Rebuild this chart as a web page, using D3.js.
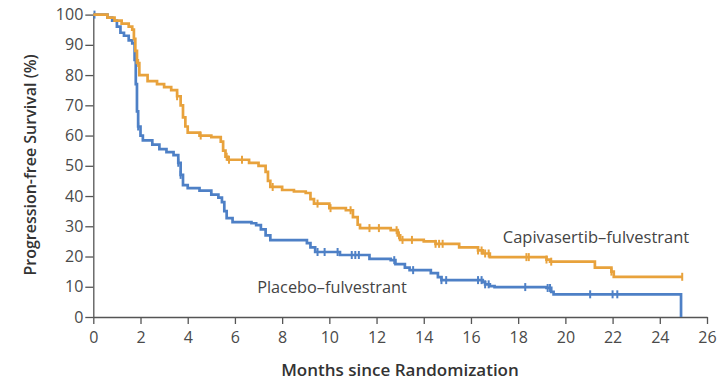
<!DOCTYPE html>
<html>
<head>
<meta charset="utf-8">
<script src="https://d3js.org/d3.v7.min.js"></script>
<style>
  body { margin: 0; background: #fff; }
  svg text { font-family: "Open Sans", "Noto Sans", sans-serif; }
</style>
</head>
<body>
<div id="chart"></div>
<script>
// Kaplan-Meier estimates: [month, survival %]
var capiCurve = [
  [0,100],[0.6,99],[0.9,98],[1.2,97],[1.5,96],[1.65,95],[1.72,92],[1.78,88],[1.85,84],[1.95,80],
  [2.3,78],[2.7,77],[3.0,76],[3.3,75],[3.55,73],[3.7,70],[3.8,66],[3.9,63],[4.0,61],[4.5,60],
  [5.0,59.5],[5.4,58],[5.5,55],[5.6,53],[5.7,52],[6.6,51],[7.0,50],[7.3,48],[7.4,45],[7.5,43],
  [8.0,42],[8.5,41.5],[9.0,41],[9.2,39],[9.35,37.5],[10.0,36],[10.7,35.3],[11.0,33],[11.2,30.5],[11.3,29.4],
  [12.6,28.7],[12.9,27],[13.0,25.5],[14.0,25],[14.5,24.2],[15.5,23],[16.3,22],[16.5,21],[16.8,19.8],
  [19.2,19],[19.35,18.3],[21.25,16.3],[21.95,15],[22.05,13.3],[24.95,13.3]
];
var placeboCurve = [
  [0,100],[0.6,99],[0.8,98],[1.0,96],[1.15,94],[1.3,93],[1.5,91.5],[1.65,90.5],[1.75,85],[1.8,77],
  [1.85,68],[1.9,63],[2.0,60],[2.1,58.4],[2.5,57],[2.8,55.5],[3.1,54.5],[3.4,53.5],[3.6,51],[3.7,47],
  [3.8,43.6],[4.0,42.6],[4.5,41.8],[5.0,40.5],[5.3,39.5],[5.45,38],[5.55,35],[5.65,32.7],[5.9,31.4],[6.7,31],
  [6.9,30.4],[7.1,29],[7.3,27],[7.5,25.4],[9.05,24.4],[9.2,23],[9.4,21.5],[10.45,20.5],[11.7,19.2],[12.6,18.8],
  [12.8,17.5],[13.2,16.3],[13.4,15.5],[14.3,14.5],[14.6,13.2],[14.75,12.2],[16.5,11.5],[16.6,10.8],[16.8,10.2],[17.0,9.9],
  [19.2,9.6],[19.4,8.3],[19.5,7.5],[24.9,0]
];
// censored observations (months)
var capiCens = [1.9, 3.55, 4.55, 5.65, 5.75, 6.3, 7.6, 9.5, 10.05, 10.9, 11.7, 12.1, 12.85, 12.95, 13.1, 13.5,
  14.5, 14.65, 14.8, 16.3, 16.45, 16.6, 16.75, 18.35, 18.45, 19.2, 19.4, 21.95, 24.95];
var placeboCens = [0.05, 1.9, 3.6, 3.7, 9.5, 9.8, 10.35, 10.95, 11.1, 11.25, 12.75, 13.55, 14.75, 14.95,
  16.3, 16.45, 16.6, 16.75, 18.3, 19.25, 19.35, 21.05, 22.0, 22.2];

var xTicks = d3.range(0, 27, 2);
var yTicks = d3.range(0, 101, 10);

var width = 717, height = 382;
var x = d3.scaleLinear().domain([0, 26]).range([93.3, 707]);
var y = d3.scaleLinear().domain([0, 100]).range([317, 14.6]);

var svg = d3.select("#chart").append("svg")
  .attr("width", width)
  .attr("height", height);

var axisColor = "#555";

// axes
var xAxis = svg.append("g")
  .attr("transform", "translate(0," + y(0) + ")")
  .call(d3.axisBottom(x).tickValues(xTicks).tickSize(7).tickPadding(8).tickSizeOuter(0));
var yAxis = svg.append("g")
  .attr("transform", "translate(" + x(0) + ",0)")
  .call(d3.axisLeft(y).tickValues(yTicks).tickSize(8).tickPadding(2).tickSizeOuter(0));

[xAxis, yAxis].forEach(function (g) {
  g.select(".domain").attr("stroke", axisColor).attr("stroke-width", 1.3);
  g.selectAll(".tick line").attr("stroke", axisColor).attr("stroke-width", 1.3);
  g.selectAll(".tick text").attr("fill", "#4a4a4a").style("font-size", "16px");
});

// step lookup for censor marks
function survAt(curve, t) {
  var s = curve[0][1];
  for (var i = 0; i < curve.length; i++) {
    if (curve[i][0] <= t) s = curve[i][1];
  }
  return s;
}

var line = d3.line()
  .x(function (d) { return x(d[0]); })
  .y(function (d) { return y(d[1]); })
  .curve(d3.curveStepAfter);

function drawSeries(curve, cens, color) {
  svg.append("path")
    .datum(curve)
    .attr("fill", "none")
    .attr("stroke", color)
    .attr("stroke-width", 2.7)
    .attr("d", line);
  svg.append("g").selectAll("line")
    .data(cens)
    .enter()
    .append("line")
    .attr("x1", function (d) { return x(d); })
    .attr("x2", function (d) { return x(d); })
    .attr("y1", function (d) { return y(survAt(curve, d)) - 4; })
    .attr("y2", function (d) { return y(survAt(curve, d)) + 4; })
    .attr("stroke", color)
    .attr("stroke-width", 2);
}

drawSeries(placeboCurve, placeboCens, "#4e80c6");
drawSeries(capiCurve, capiCens, "#e8a23c");

// series labels
svg.append("text")
  .attr("x", 596).attr("y", 243)
  .attr("text-anchor", "middle")
  .attr("fill", "#444")
  .style("font-size", "16.5px")
  .text("Capivasertib\u2013fulvestrant");
svg.append("text")
  .attr("x", 332).attr("y", 293)
  .attr("text-anchor", "middle")
  .attr("fill", "#444")
  .style("font-size", "16.3px")
  .text("Placebo\u2013fulvestrant");

// axis titles
svg.append("text")
  .attr("x", 400).attr("y", 376)
  .attr("text-anchor", "middle")
  .attr("fill", "#333")
  .style("font-size", "17px")
  .style("font-weight", "600")
  .text("Months since Randomization");
svg.append("text")
  .attr("transform", "translate(36,165) rotate(-90)")
  .attr("text-anchor", "middle")
  .attr("fill", "#333")
  .style("font-size", "16px")
  .style("font-weight", "600")
  .text("Progression-free Survival (%)");
</script>
</body>
</html>
